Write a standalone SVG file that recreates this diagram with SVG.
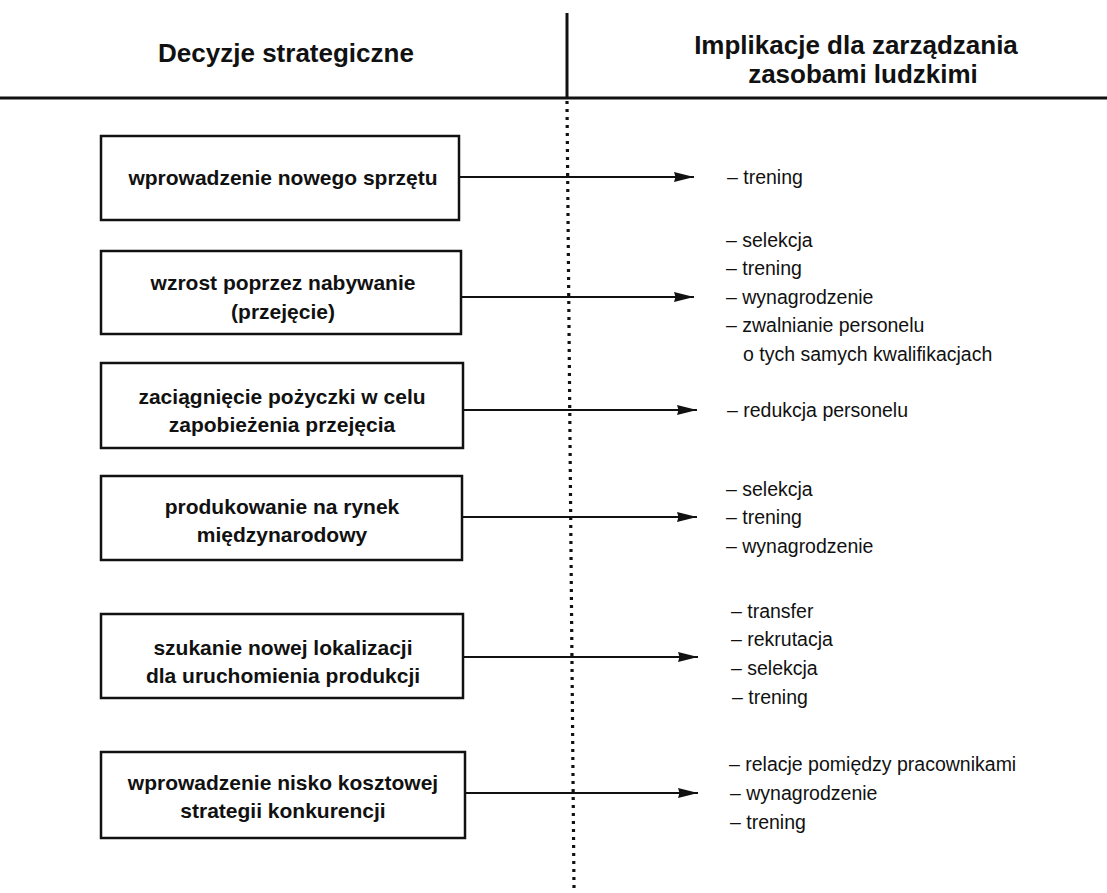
<svg xmlns="http://www.w3.org/2000/svg" width="1107" height="893" viewBox="0 0 1107 893">
  <style>
    .head { font-family: "Liberation Sans", Arial, sans-serif; font-size: 26px; font-weight: bold; fill: #111; text-anchor: middle; }
    .box rect { fill: #fff; stroke: #111; stroke-width: 2.5; }
    .box text { font-family: "Liberation Sans", Arial, sans-serif; font-size: 21px; font-weight: bold; fill: #111; text-anchor: middle; }
    .imp { font-family: "Liberation Sans", Arial, sans-serif; font-size: 19.5px; fill: #111; }
    .conn line { stroke: #111; stroke-width: 2; }
  </style>
  <defs>
    <marker id="arrow" viewBox="0 0 20 11" refX="20" refY="5.5" markerWidth="20" markerHeight="11" markerUnits="userSpaceOnUse" orient="auto">
      <path d="M0,0.5 L20,5.5 L0,10.5 L1.5,5.5 Z" fill="#111"/>
    </marker>
  </defs>
  <rect width="1107" height="893" fill="#fff"/>

  <!-- header -->
  <g id="header">
    <line x1="567" y1="13" x2="567" y2="98" stroke="#111" stroke-width="3"/>
    <line x1="0" y1="98" x2="1107" y2="98" stroke="#111" stroke-width="3"/>
    <text class="head" x="286" y="62">Decyzje strategiczne</text>
    <text class="head" x="856" y="54">Implikacje dla zarządzania</text>
    <text class="head" x="863" y="83">zasobami ludzkimi</text>
  </g>

  <!-- dotted divider -->
  <line id="divider" x1="567" y1="101" x2="574" y2="888" stroke="#111" stroke-width="3.2" stroke-dasharray="3 5"/>

  <!-- decision boxes -->
  <g id="n1" class="box">
    <rect x="101" y="136" width="358" height="84"/>
    <text x="283" y="185">wprowadzenie nowego sprzętu</text>
  </g>
  <g id="n2" class="box">
    <rect x="101" y="251" width="360" height="83"/>
    <text x="283" y="290">wzrost poprzez nabywanie</text>
    <text x="283" y="319">(przejęcie)</text>
  </g>
  <g id="n3" class="box">
    <rect x="101" y="363" width="362" height="85"/>
    <text x="282" y="404">zaciągnięcie pożyczki w celu</text>
    <text x="282" y="432">zapobieżenia przejęcia</text>
  </g>
  <g id="n4" class="box">
    <rect x="101" y="476" width="361" height="84"/>
    <text x="282" y="514">produkowanie na rynek</text>
    <text x="282" y="542">międzynarodowy</text>
  </g>
  <g id="n5" class="box">
    <rect x="101" y="614" width="362" height="84"/>
    <text x="283" y="655">szukanie nowej lokalizacji</text>
    <text x="283" y="683">dla uruchomienia produkcji</text>
  </g>
  <g id="n6" class="box">
    <rect x="101" y="752" width="364" height="86"/>
    <text x="283" y="790">wprowadzenie nisko kosztowej</text>
    <text x="283" y="818">strategii konkurencji</text>
  </g>

  <!-- connectors -->
  <g id="connectors" class="conn">
    <line x1="459" y1="177" x2="694" y2="177" marker-end="url(#arrow)"/>
    <line x1="461" y1="297" x2="694" y2="297" marker-end="url(#arrow)"/>
    <line x1="463" y1="410" x2="697" y2="410" marker-end="url(#arrow)"/>
    <line x1="462" y1="517" x2="697" y2="517" marker-end="url(#arrow)"/>
    <line x1="463" y1="657" x2="698" y2="657" marker-end="url(#arrow)"/>
    <line x1="465" y1="793" x2="698" y2="793" marker-end="url(#arrow)"/>
  </g>

  <!-- HR implications -->
  <g id="i1" class="imp">
    <text x="727" y="184">– trening</text>
  </g>
  <g id="i2" class="imp">
    <text x="726" y="247">– selekcja</text>
    <text x="726" y="275">– trening</text>
    <text x="726" y="304">– wynagrodzenie</text>
    <text x="726" y="332">– zwalnianie personelu</text>
    <text x="743" y="361">o tych samych kwalifikacjach</text>
  </g>
  <g id="i3" class="imp">
    <text x="727" y="417">– redukcja personelu</text>
  </g>
  <g id="i4" class="imp">
    <text x="726" y="496">– selekcja</text>
    <text x="726" y="524">– trening</text>
    <text x="726" y="553">– wynagrodzenie</text>
  </g>
  <g id="i5" class="imp">
    <text x="731" y="618">– transfer</text>
    <text x="731" y="646">– rekrutacja</text>
    <text x="731" y="675">– selekcja</text>
    <text x="732" y="704">– trening</text>
  </g>
  <g id="i6" class="imp">
    <text x="729" y="771">– relacje pomiędzy pracownikami</text>
    <text x="730" y="800">– wynagrodzenie</text>
    <text x="730" y="829">– trening</text>
  </g>
</svg>
